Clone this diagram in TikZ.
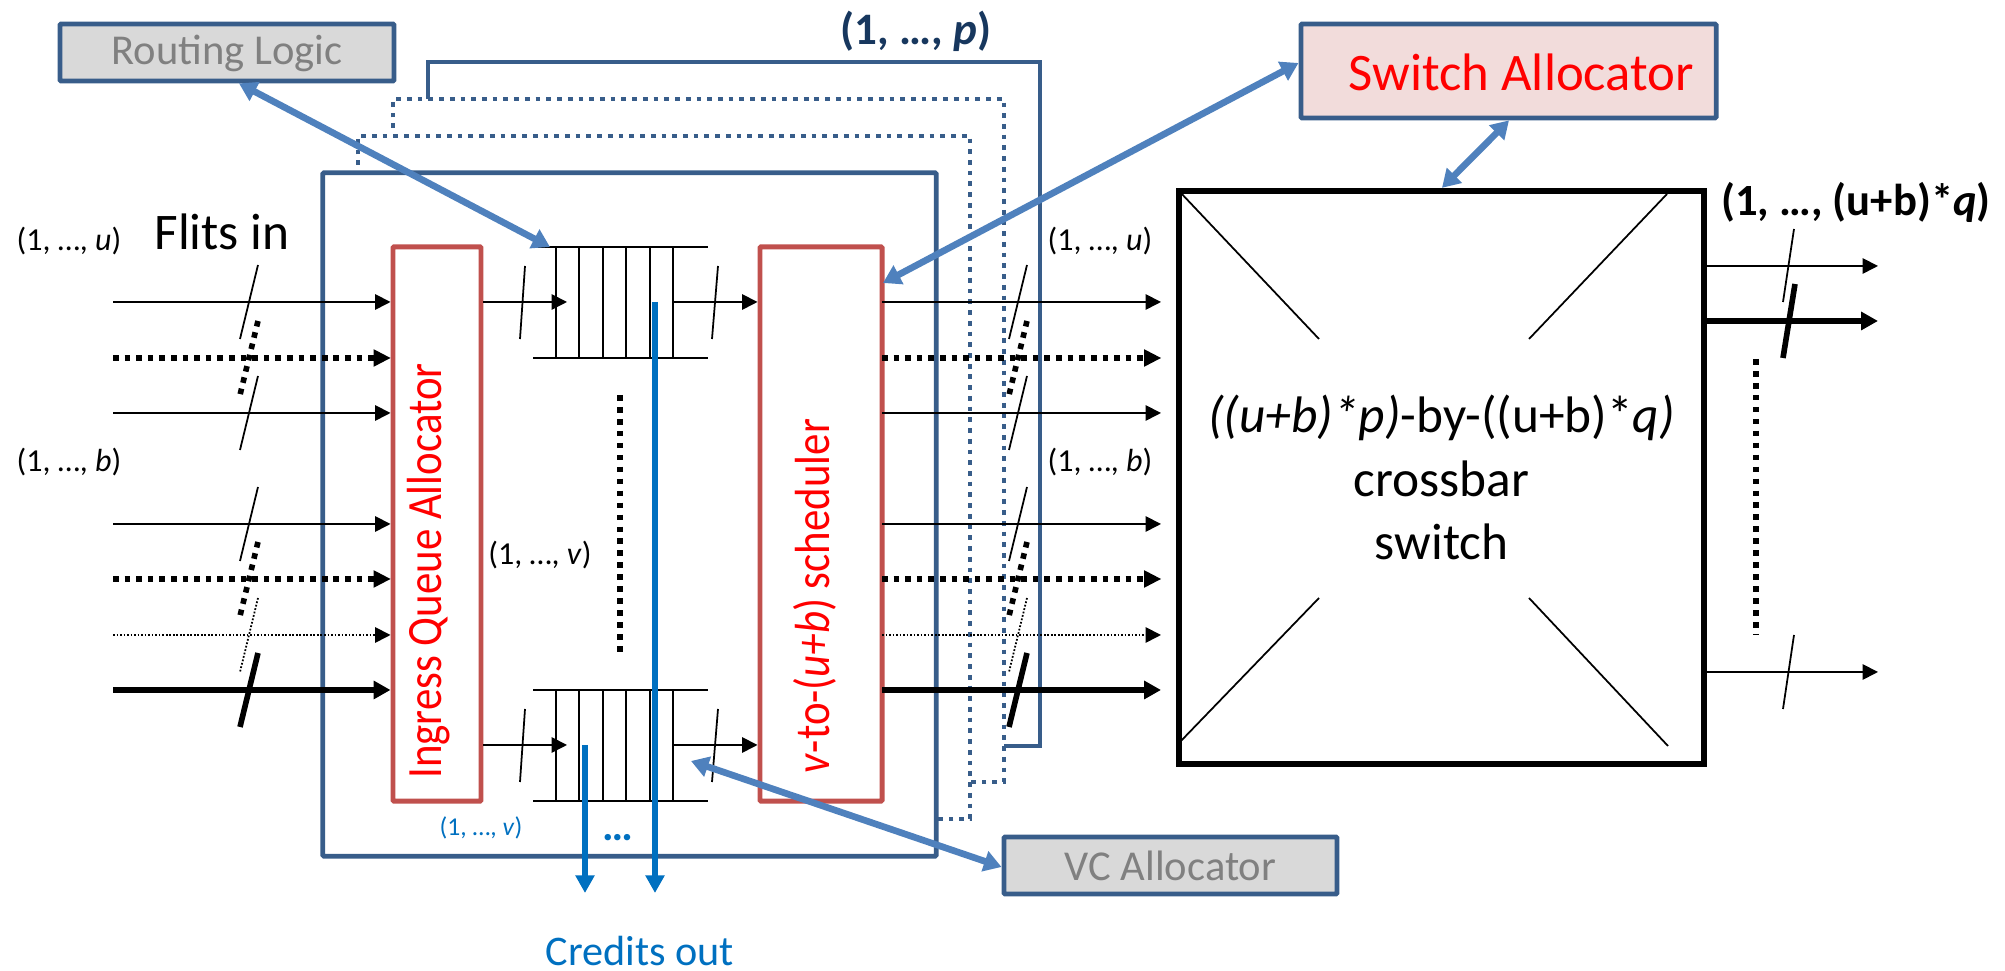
\documentclass[tikz,border=0pt]{standalone}
\usepackage{fontspec}
\setmainfont{Carlito}
\usetikzlibrary{arrows.meta}
\definecolor{boxblue}{HTML}{385D8A}
\definecolor{linkblue}{HTML}{4F81BD}
\definecolor{creditblue}{HTML}{0070C0}
\definecolor{boxred}{HTML}{C0504D}
\definecolor{navy}{HTML}{17375E}
\newcommand{\fsize}[1]{\fontsize{#1}{20}\selectfont}
\begin{document}
\begin{tikzpicture}[x=0.01cm, y=-0.01cm,
    blockbox/.style={draw=boxblue, line width=1.35pt, rounded corners=0.3pt, inner sep=0pt},
    greybox/.style={blockbox, fill=black!15, text=black!50, font=\fsize{12.1}},
    redbox/.style={draw=boxred, line width=1.4pt, rounded corners=0.3pt, minimum height=5.54cm, inner sep=0pt},
    redtext/.style={text=red, rotate=90, inner sep=0pt, font=\fsize{12.2}},
    thinwire/.style={line width=0.5pt, -{Triangle[length=4.4pt,width=4.4pt]}},
    dotwire/.style={line width=1.6pt, dash pattern=on 1.6pt off 1.7pt, -{Triangle[length=4.8pt,width=5pt,line width=0pt]}},
    fine/.style={line width=0.5pt, dash pattern=on 0.5pt off 0.5pt, -{Triangle[length=4.4pt,width=4.4pt]}},
    fatwire/.style={line width=1.6pt, -{Triangle[length=4.8pt,width=5pt]}},
    blueframe/.style={draw=boxblue, line width=1.35pt},
    dotframe/.style={draw=boxblue, line width=1.35pt, dash pattern=on 1.35pt off 1.7pt},
    link/.style={draw=linkblue, line width=1.9pt, {Triangle[length=5pt,width=5.8pt]}-{Triangle[length=5pt,width=5.8pt]}},
    credit/.style={draw=creditblue, line width=1.5pt, -{Triangle[length=5pt,width=5.2pt]}},
    smalltext/.style={inner sep=0pt, font=\fsize{9.1}}]
    \useasboundingbox (0,0) rectangle (2005,971);
    \node[blockbox, minimum width=6.13cm, minimum height=6.83cm] (router) at (629.5,514.5) {};
    \draw[dotframe] (358,165) -- (358,136) -- (970,136) -- (970,819) -- (936,819);
    \draw[dotframe] (393,128) -- (393,99) -- (1004,99) -- (1004,782) -- (970,782);
    \draw[blueframe] (428,99) -- (428,62) -- (1040,62) -- (1040,746) -- (1004,746);
    \node[redbox, minimum width=0.88cm] (ingress) at (437,524) {};
    \node[redbox, minimum width=1.22cm] (sched) at (821,524) {};
    \node[redtext] (ingresstext) at (429,571) {\scalebox{1}[1.15]{Ingress Queue Allocator}};
    \node[redtext] (schedtext) at (815,596) {\scalebox{1}[1.15]{\textit{v}-to-(\textit{u+b}) scheduler}};
    \node[greybox, minimum width=3.34cm, minimum height=0.57cm, text height=9pt, text depth=2.1pt] (routing) at (227,52.5) {Routing Logic};
    \node[greybox, minimum width=3.33cm, minimum height=0.57cm] (vc) at (1170.5,865.5) {VC Allocator};
    \node[blockbox, fill=boxred!20, text=red, minimum width=4.15cm, minimum height=0.94cm, font=\fsize{15}, text height=11pt, text depth=0pt] (swalloc) at (1508.5,71) {\hspace*{0.26cm}Switch Allocator};
    \node[draw, line width=1.7pt, minimum width=5.25cm, minimum height=5.73cm, align=center, inner sep=0pt, font=\fontsize{14.6}{18}\selectfont] (crossbar) at (1441.5,477.5)
      {\textit{((u+b)*p)}-by-((u+b)*\textit{q)}\\crossbar\\switch};
    \foreach \x/\y/\xx/\yy in {1179/191/1319/339, 1179/743/1319/598, 1667/194/1529/339, 1668/746/1529/598}{
      \draw[line width=0.5pt] (\x,\y) -- (\xx,\yy);
    }
    \foreach \i/\y/\sty in {1/302/thinwire,2/358/dotwire,3/413/thinwire,4/524/thinwire,5/579/dotwire,6/635/fine,7/690/fatwire}{
      \coordinate (in\i) at (113,\y);
      \coordinate (out\i) at (882,\y);
      \draw[\sty] (in\i) -- (in\i -| ingress.west);
      \draw[\sty] (out\i) -- (1161,\y);
      \foreach \x in {249,1018}{
        \draw[\sty, arrows=-] (\x+9,\y-37) -- (\x-9,\y+37);
      }
    }
    \foreach \q/\qtop/\qbot/\qmid in {a/247/358/302,b/690/801/745}{
      \draw[line width=0.5pt] (533,\qtop) -- (708,\qtop) (533,\qbot) -- (708,\qbot);
      \foreach \x in {556,579,603,626,650,673}{
        \draw[line width=0.5pt] (\x,\qtop) -- (\x,\qbot);
      }
      \coordinate (qin\q) at (ingress.east |- 0,\qmid);
      \coordinate (qout\q) at (673,\qmid);
      \draw[thinwire] (qin\q) -- (567,\qmid);
      \draw[thinwire] (qout\q) -- (qout\q -| sched.west);
      \draw[line width=0.5pt] (525,\qtop+19) -- (520,\qtop+92);
      \draw[line width=0.5pt] (718,\qtop+19) -- (712,\qtop+92);
    }
    \draw[line width=1.6pt, dash pattern=on 1.6pt off 1.8pt] (620,395) -- (620,653);
    \foreach \i/\y/\sty in {1/266/thinwire,2/321/fatwire,3/672/thinwire}{
      \coordinate (xout\i) at (crossbar.east |- 0,\y);
      \draw[\sty] (xout\i) -- (1878,\y);
    }
    \draw[line width=0.5pt] (1794,229) -- (1783,302);
    \draw[line width=1.6pt] (1795,284) -- (1783,358);
    \draw[line width=0.5pt] (1794,635) -- (1783,709);
    \draw[line width=1.6pt, dash pattern=on 1.6pt off 1.8pt] (1756,359) -- (1756,635);
    \coordinate (qtop) at (550,247);
    \coordinate (qbot) at (691,761);
    \coordinate (schedtip) at (883,283);
    \draw[link] (routing.south -| 239,0) -- (qtop);
    \draw[link] (swalloc.west |- 0,63) -- (schedtip);
    \draw[link] (swalloc.south -| 1509,0) -- (crossbar.north -| 1442,0);
    \draw[link] (vc.west |- 0,867) -- (qbot);
    \coordinate (cr1) at (655,302);
    \coordinate (cr2) at (585,745);
    \draw[credit] (cr1) -- (655,893);
    \draw[credit] (cr2) -- (585,893);
    \node[smalltext] (lu) at (69,241) {(1, …, \textit{u})};
    \node[smalltext] (lb) at (69,462) {(1, …, \textit{b})};
    \node[smalltext] (ru) at (1100,241) {(1, …, \textit{u})};
    \node[smalltext] (rb) at (1100,462) {(1, …, \textit{b})};
    \node[smalltext] (lv) at (540,555) {(1, …, \textit{v})};
    \node[smalltext, text=creditblue, font=\fsize{7.3}] (lc) at (481,828) {(1, …, \textit{v})};
    \node[inner sep=0pt, text=creditblue, font=\bfseries\fsize{12.3}, anchor=base] (dots) at (618,841) {…};
    \node[inner sep=0pt, text=creditblue, font=\fsize{12}] (credits) at (640,951) {Credits out};
    \node[inner sep=0pt, font=\fsize{14.6}] (flits) at (222,232) {Flits in};
    \node[inner sep=0pt, text=navy, font=\bfseries\fsize{12.8}] (lp) at (916,31) {(1, …, \textit{p})};
    \node[inner sep=0pt, font=\bfseries\fsize{12.7}] (lq) at (1856,202) {(1, …, (u+b)*\textit{q})};
\end{tikzpicture}
\end{document}
